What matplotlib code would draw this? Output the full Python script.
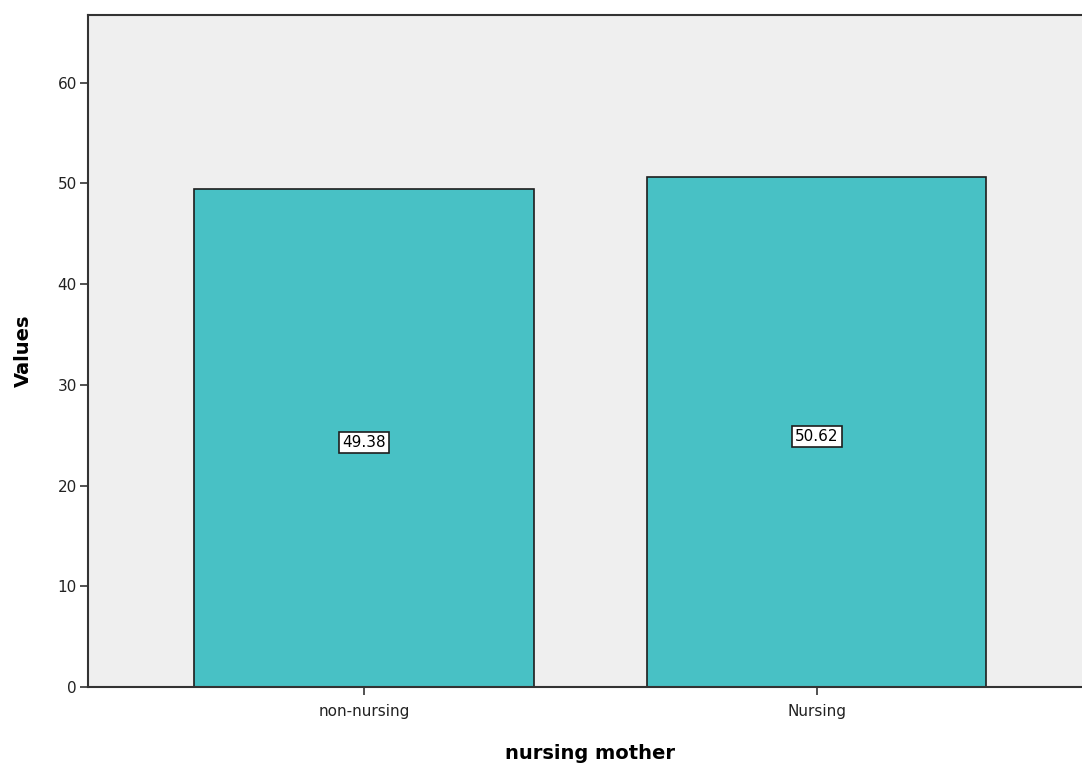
import matplotlib
matplotlib.use('Agg')
import matplotlib.pyplot as plt

# Datos de las barras
categorias = ['non-nursing', 'Nursing']
valores = [49.38, 50.62]
etiquetas_y = [0, 10, 20, 30, 40, 50, 60]

plt.rcParams['font.family'] = ['DejaVu Sans']

fig = plt.figure(figsize=(10.82, 7.69), dpi=100)
ax = fig.add_axes([88 / 1082, 1 - 687 / 769, 1 - 88 / 1082 + 0.01, (687 - 15) / 769])
ax.set_facecolor('#efefef')

posiciones = list(range(len(categorias)))
barras = ax.bar(posiciones, valores, width=0.75, color='#48c1c5',
                edgecolor='#1e1e1e', linewidth=1.2, zorder=2)

# Etiquetas con el valor en el centro de cada barra
for pos, val in zip(posiciones, valores):
    ax.annotate(f'{val:.2f}', xy=(pos, val / 2), xytext=(0, -3),
                textcoords='offset points', ha='center', va='center', fontsize=11,
                bbox=dict(boxstyle='square,pad=0.2', facecolor='white',
                          edgecolor='#1e1e1e', linewidth=1.2), zorder=3)

ax.set_xlim(-0.61, 1.61)
ax.set_ylim(0, 66.7)
ax.set_yticks(etiquetas_y)
ax.set_yticklabels([str(v) for v in etiquetas_y], fontsize=11, color='#222222')
ax.set_xticks(posiciones)
ax.set_xticklabels(categorias, fontsize=11, color='#222222')
ax.tick_params(axis='both', length=6, width=1.2, color='#333333')
ax.tick_params(axis='x', pad=6)
ax.tick_params(axis='y', pad=2)

for lado in ['left', 'bottom', 'top']:
    ax.spines[lado].set_linewidth(1.5)
    ax.spines[lado].set_color('#333333')
ax.spines['right'].set_visible(False)

ax.set_xlabel('nursing mother', fontsize=14, fontweight='bold', labelpad=18)
ax.set_ylabel('Values', fontsize=14, fontweight='bold', labelpad=18)

fig.savefig('out.png', dpi=100)
